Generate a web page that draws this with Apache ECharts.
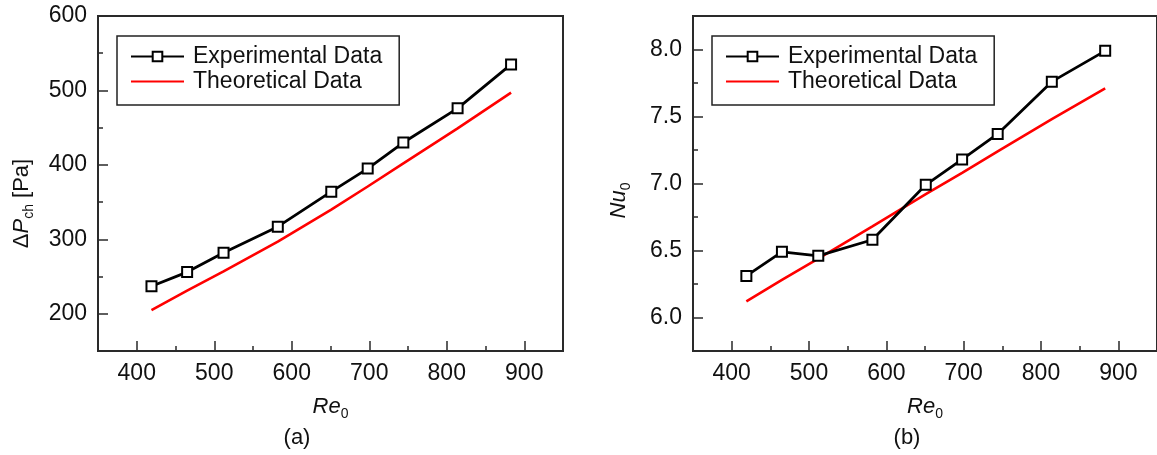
<!DOCTYPE html>
<html>
<head>
<meta charset="utf-8">
<script src="https://cdn.jsdelivr.net/npm/echarts@6/dist/echarts.min.js"></script>
<style>
  html, body { margin: 0; padding: 0; background: #fff; }
  #chart { width: 1157px; height: 455px; }
</style>
</head>
<body>
<div id="chart"></div>
<script>
// Re values shared by both panels
const re = [419, 465, 512, 582, 651, 698, 744, 814, 883]
const dpExp = [237, 256, 282, 317, 364, 395, 430, 476, 535]
const dpTheo = [205, 231, 257, 297, 340, 371, 402, 449, 497]
const nuExp = [6.31, 6.49, 6.46, 6.58, 6.99, 7.18, 7.37, 7.76, 7.99]
const nuTheo = [6.12, 6.28, 6.44, 6.68, 6.92, 7.08, 7.24, 7.48, 7.71]

const xMajor = [400, 500, 600, 700, 800, 900]
const xMinor = [450, 550, 650, 750, 850]
const dpMajor = [200, 300, 400, 500, 600]
const dpMinor = [250, 350, 450, 550]
const nuMajor = [6.0, 6.5, 7.0, 7.5, 8.0]
const nuMinor = [6.25, 6.75, 7.25, 7.75]

const FONT = 'Liberation Sans, Arial, sans-serif'
const AX = '#2a2a2a'

function pairs(xs, ys) {
  return xs.map((x, i) => [x, ys[i]])
}

function nameRich() {
  return {
    n: { fontFamily: FONT, fontSize: 22, color: '#111', lineHeight: 28, verticalAlign: 'middle' },
    i: { fontFamily: FONT, fontSize: 22, color: '#111', fontStyle: 'italic', lineHeight: 28, verticalAlign: 'middle' },
    s: { fontFamily: FONT, fontSize: 14, color: '#111', lineHeight: 13, verticalAlign: 'bottom' }
  }
}

function mainAxis(dim, grid, min, max, major, fmt, name, gap, pad) {
  let a = {
    type: 'value',
    gridIndex: grid,
    min: min,
    max: max,
    position: dim === 'x' ? 'bottom' : 'left',
    name: name,
    nameLocation: 'middle',
    nameGap: gap,
    nameTextStyle: { rich: nameRich(), padding: pad },
    axisLine: { show: true, lineStyle: { color: AX, width: 2 } },
    axisTick: { show: true, inside: true, length: 10, customValues: major, lineStyle: { color: AX, width: 1.5 } },
    axisLabel: { customValues: major, formatter: fmt, fontFamily: FONT, fontSize: 23, color: '#111', margin: 11 },
    splitLine: { show: false }
  }
  if (dim === 'y') a.nameRotate = 90
  return a
}

function minorAxis(dim, grid, min, max, minor) {
  return {
    type: 'value',
    gridIndex: grid,
    min: min,
    max: max,
    position: dim === 'x' ? 'bottom' : 'left',
    offset: 0,
    axisLine: { show: false },
    axisTick: { show: true, inside: true, length: 5, customValues: minor, lineStyle: { color: AX, width: 1.5 } },
    axisLabel: { show: false },
    splitLine: { show: false }
  }
}

function legendAt(left) {
  return {
    data: [
      { name: 'Experimental Data' },
      { name: 'Theoretical Data', itemStyle: { opacity: 0 } }
    ],
    orient: 'vertical',
    left: left,
    top: 36,
    itemWidth: 53,
    itemHeight: 12,
    itemGap: 2,
    padding: [9, 17, 12, 13],
    borderColor: '#222',
    borderWidth: 1.5,
    textStyle: { fontFamily: FONT, fontSize: 23, color: '#111', padding: [0, 0, 0, 4] }
  }
}

function expSeries(xi, yi, data) {
  return {
    name: 'Experimental Data',
    type: 'line',
    xAxisIndex: xi,
    yAxisIndex: yi,
    data: data,
    symbol: 'rect',
    symbolSize: 10,
    z: 3,
    lineStyle: { color: '#000', width: 2.8 },
    itemStyle: { color: '#fff', borderColor: '#000', borderWidth: 2 }
  }
}

function theoSeries(xi, yi, data) {
  return {
    name: 'Theoretical Data',
    type: 'line',
    xAxisIndex: xi,
    yAxisIndex: yi,
    data: data,
    symbol: 'none',
    z: 2,
    lineStyle: { color: '#ff0000', width: 2.6 },
    itemStyle: { color: '#ff0000' }
  }
}

let chart = echarts.init(document.getElementById('chart'))
chart.setOption({
  animation: false,
  title: [
    { text: '(a)', left: 292, top: 422, textAlign: 'center', textStyle: { fontFamily: FONT, fontSize: 22, fontWeight: 'normal', color: '#111' } },
    { text: '(b)', left: 902, top: 422, textAlign: 'center', textStyle: { fontFamily: FONT, fontSize: 22, fontWeight: 'normal', color: '#111' } }
  ],
  legend: [legendAt(117), legendAt(712)],
  grid: [
    { left: 98, top: 16, width: 465, height: 335, show: true, borderColor: AX, borderWidth: 2 },
    { left: 693, top: 16, width: 464, height: 335, show: true, borderColor: AX, borderWidth: 2 }
  ],
  xAxis: [
    mainAxis('x', 0, 350, 950, xMajor, v => v, '{i|Re}{s|0}', 42, [0, 0, 0, 0]),
    minorAxis('x', 0, 350, 950, xMinor),
    mainAxis('x', 1, 350, 950, xMajor, v => v, '{i|Re}{s|0}', 42, [0, 0, 0, 0]),
    minorAxis('x', 1, 350, 950, xMinor)
  ],
  yAxis: [
    mainAxis('y', 0, 150, 600, dpMajor, v => v, '{n|Δ}{i|P}{s|ch}{n| [Pa]}', 62, [0, 40, 0, 0]),
    minorAxis('y', 0, 150, 600, dpMinor),
    mainAxis('y', 1, 5.75, 8.25, nuMajor, v => v.toFixed(1), '{i|Nu}{s|0}', 60, [0, 34, 0, 0]),
    minorAxis('y', 1, 5.75, 8.25, nuMinor)
  ],
  series: [
    theoSeries(0, 0, pairs(re, dpTheo)),
    expSeries(0, 0, pairs(re, dpExp)),
    theoSeries(2, 2, pairs(re, nuTheo)),
    expSeries(2, 2, pairs(re, nuExp))
  ]
})
</script>
</body>
</html>
